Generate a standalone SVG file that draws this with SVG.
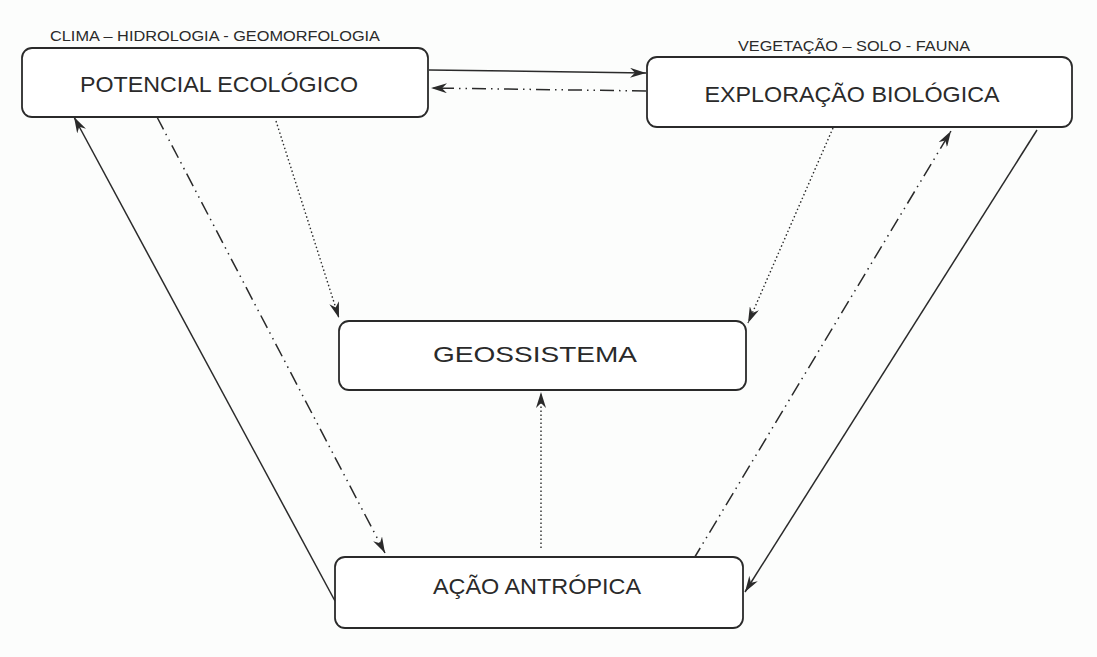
<svg xmlns="http://www.w3.org/2000/svg" width="1097" height="657" viewBox="0 0 1097 657">
<style>
.box{fill:#fff;stroke:#2a2a2a;stroke-width:1.8}
.t{font-family:"Liberation Sans",Arial,sans-serif;fill:#2a2a2a}
.big{font-size:22px}
.small{font-size:15px}
.c{fill:none;stroke:#2a2a2a;stroke-width:1.5}
.dd{stroke-dasharray:14 5 1.5 5 1.5 5}
.dot{stroke-dasharray:1.5 2.5;stroke-width:1.4}
</style>
<defs>
<marker id="ah" viewBox="0 0 16 10" refX="16" refY="5" markerWidth="16" markerHeight="10" markerUnits="userSpaceOnUse" orient="auto">
<path d="M0,0 L16,5 L0,10 L5,5 Z" fill="#2a2a2a"/>
</marker>
</defs>
<rect width="1097" height="657" fill="#fcfdfc"/>
<g id="connectors">
<line class="c" x1="429" y1="70" x2="646" y2="73" marker-end="url(#ah)"/>
<line class="c dd" x1="646" y1="91" x2="431" y2="88" marker-end="url(#ah)"/>
<line class="c" x1="335" y1="601" x2="74" y2="117" marker-end="url(#ah)"/>
<line class="c dd" x1="157" y1="117" x2="385" y2="553" marker-end="url(#ah)"/>
<line class="c dot" x1="276" y1="121" x2="339" y2="318" marker-end="url(#ah)"/>
<line class="c dot" x1="833" y1="128" x2="748" y2="323" marker-end="url(#ah)"/>
<line class="c dot" x1="541" y1="548" x2="541" y2="392" marker-end="url(#ah)"/>
<line class="c dd" x1="693" y1="560" x2="951" y2="131" marker-end="url(#ah)"/>
<line class="c" x1="1037" y1="130" x2="745" y2="592" marker-end="url(#ah)"/>
</g>
<g id="potencial">
<rect class="box" x="22" y="48" width="406" height="69" rx="10"/>
<text class="t big" x="219" y="92" text-anchor="middle" textLength="278" lengthAdjust="spacingAndGlyphs">POTENCIAL ECOLÓGICO</text>
<text class="t small" x="215" y="41" text-anchor="middle" textLength="330" lengthAdjust="spacingAndGlyphs">CLIMA – HIDROLOGIA - GEOMORFOLOGIA</text>
</g>
<g id="exploracao">
<rect class="box" x="647" y="57" width="425" height="70" rx="10"/>
<text class="t big" x="852" y="102" text-anchor="middle" textLength="295" lengthAdjust="spacingAndGlyphs">EXPLORAÇÃO BIOLÓGICA</text>
<text class="t small" x="854" y="51" text-anchor="middle" textLength="232" lengthAdjust="spacingAndGlyphs">VEGETAÇÃO – SOLO - FAUNA</text>
</g>
<g id="geossistema">
<rect class="box" x="339" y="321" width="407" height="69" rx="10"/>
<text class="t big" x="535" y="362" text-anchor="middle" textLength="204" lengthAdjust="spacingAndGlyphs">GEOSSISTEMA</text>
</g>
<g id="acao">
<rect class="box" x="335" y="557" width="408" height="71" rx="10"/>
<text class="t big" x="537" y="594" text-anchor="middle" textLength="208" lengthAdjust="spacingAndGlyphs">AÇÃO ANTRÓPICA</text>
</g>
</svg>
